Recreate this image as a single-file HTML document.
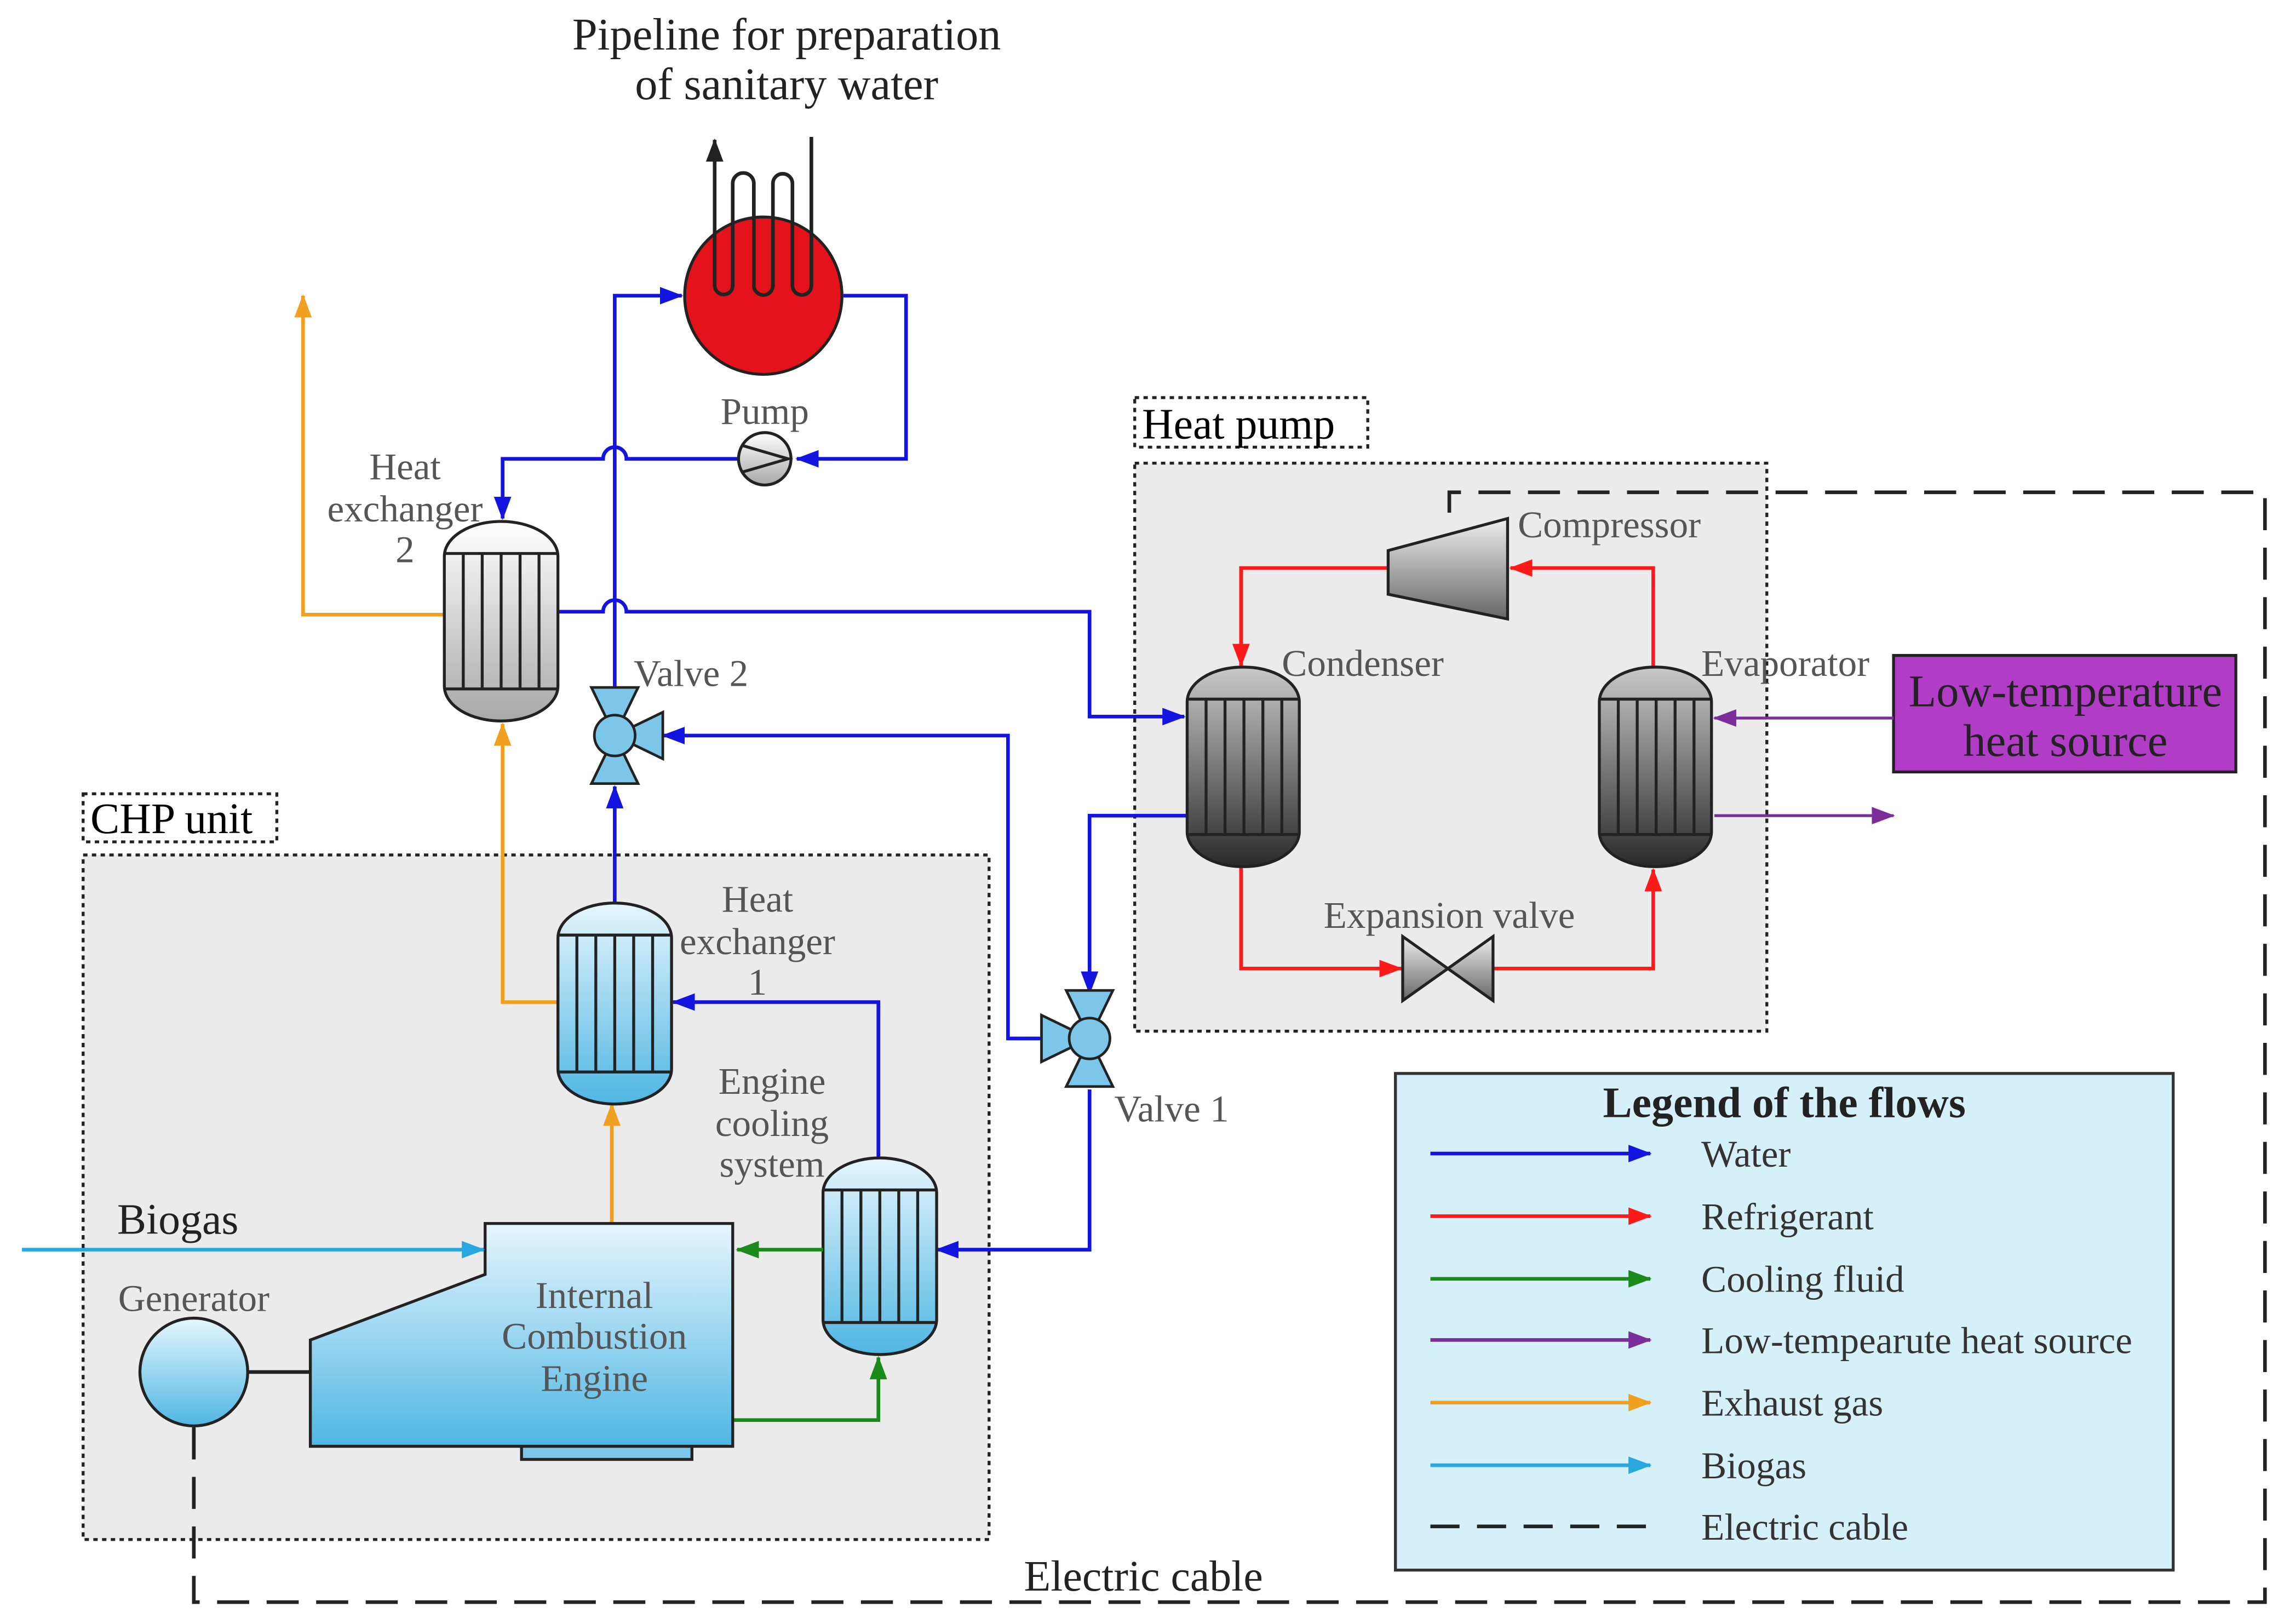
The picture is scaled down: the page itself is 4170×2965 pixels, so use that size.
<!DOCTYPE html>
<html><head><meta charset="utf-8"><style>
html,body{margin:0;padding:0;background:#fff;}
svg{display:block;}
text{font-family:"Liberation Serif",serif;}
</style></head><body>
<svg width="4170" height="2965" viewBox="0 0 1568 1115" xmlns="http://www.w3.org/2000/svg">
<defs>
<marker id="aB" markerWidth="18" markerHeight="14" refX="15" refY="6" orient="auto" markerUnits="userSpaceOnUse"><path d="M0,0 L16,6 L0,12 z" fill="#1414e0"/></marker>
<marker id="aR" markerWidth="18" markerHeight="14" refX="15" refY="6" orient="auto" markerUnits="userSpaceOnUse"><path d="M0,0 L16,6 L0,12 z" fill="#ff1a1a"/></marker>
<marker id="aG" markerWidth="18" markerHeight="14" refX="15" refY="6" orient="auto" markerUnits="userSpaceOnUse"><path d="M0,0 L16,6 L0,12 z" fill="#1a8a1a"/></marker>
<marker id="aP" markerWidth="18" markerHeight="14" refX="15" refY="6" orient="auto" markerUnits="userSpaceOnUse"><path d="M0,0 L16,6 L0,12 z" fill="#7b2d9a"/></marker>
<marker id="aO" markerWidth="18" markerHeight="14" refX="15" refY="6" orient="auto" markerUnits="userSpaceOnUse"><path d="M0,0 L16,6 L0,12 z" fill="#f0a020"/></marker>
<marker id="aL" markerWidth="18" markerHeight="14" refX="15" refY="6" orient="auto" markerUnits="userSpaceOnUse"><path d="M0,0 L16,6 L0,12 z" fill="#29a8e0"/></marker>
<marker id="aK" markerWidth="18" markerHeight="14" refX="15" refY="6" orient="auto" markerUnits="userSpaceOnUse"><path d="M0,0 L16,6 L0,12 z" fill="#222"/></marker>
<linearGradient id="gLB" x1="0" y1="0" x2="0" y2="1"><stop offset="0" stop-color="#e6f6fd"/><stop offset="1" stop-color="#4fb6e3"/></linearGradient>
<linearGradient id="gLG" x1="0" y1="0" x2="0" y2="1"><stop offset="0" stop-color="#ffffff"/><stop offset="1" stop-color="#a8a8a8"/></linearGradient>
<linearGradient id="gDG" x1="0" y1="0" x2="0" y2="1"><stop offset="0" stop-color="#c8c8c8"/><stop offset="1" stop-color="#2a2a2a"/></linearGradient>
<linearGradient id="gCmp" x1="0" y1="0" x2="0" y2="1"><stop offset="0" stop-color="#eee"/><stop offset="1" stop-color="#666"/></linearGradient>
</defs>

<!-- boxes -->
<rect x="57" y="587" width="622" height="470" fill="#ebebeb" stroke="#222" stroke-width="2" stroke-dasharray="3,3"/>
<rect x="57" y="545" width="133" height="33" fill="#fff" stroke="#222" stroke-width="2" stroke-dasharray="3,3"/>
<text x="62" y="572" font-size="30">CHP unit</text>
<rect x="779" y="318" width="434" height="390" fill="#ebebeb" stroke="#222" stroke-width="2" stroke-dasharray="3,3"/>
<rect x="779" y="273" width="160" height="34" fill="#fff" stroke="#222" stroke-width="2" stroke-dasharray="3,3"/>
<text x="784" y="301" font-size="30">Heat pump</text>

<!-- electric cable -->
<path d="M133,980 V1100 H1555 V338 H995 V362" fill="none" stroke="#222" stroke-width="2.5" stroke-dasharray="22,12"/>
<text x="785" y="1092" font-size="30" text-anchor="middle" fill="#222">Electric cable</text>

<!-- title -->
<text x="540" y="34" font-size="31" text-anchor="middle" fill="#222">Pipeline for preparation</text>
<text x="540" y="68" font-size="31" text-anchor="middle" fill="#222">of sanitary water</text>

<!-- tank -->
<circle cx="524" cy="203" r="54" fill="#e3121b" stroke="#222" stroke-width="2"/>
<path d="M490.6,110 V196 a6.2,6.2 0 0 0 12.4,0 V126 a7.25,7.25 0 0 1 14.5,0 V196 a6.55,6.55 0 0 0 13.1,0 V126 a6.7,6.7 0 0 1 13.4,0 V196 a6.5,6.5 0 0 0 13,0 V94" stroke="#222" stroke-width="2.5" fill="none"/>
<path d="M490.6,112 V96" stroke="#222" stroke-width="2.5" fill="none" marker-end="url(#aK)"/>

<!-- water lines -->
<g fill="none" stroke="#1414e0" stroke-width="2.5">
<path d="M579,203 H622 V315 H547" marker-end="url(#aB)"/>
<path d="M507,315 H430 a8,8 0 0 0 -16,0 H345 V356" marker-end="url(#aB)"/>
<path d="M422,488 V203 H468" marker-end="url(#aB)"/>
<path d="M383,420 H414 a8,8 0 0 1 16,0 H748 V492 H813" marker-end="url(#aB)"/>
<path d="M715,713 H692 V505 H455" marker-end="url(#aB)"/>
<path d="M815,560 H748 V682" marker-end="url(#aB)"/>
<path d="M748,748 V858 H643" marker-end="url(#aB)"/>
<path d="M422,620 V540" marker-end="url(#aB)"/>
<path d="M603,795 V688 H462" marker-end="url(#aB)"/>
</g>

<!-- pump -->
<circle cx="525" cy="315" r="18" fill="url(#gLG)" stroke="#222" stroke-width="2"/>
<path d="M510,306 L541,315 L510,324" fill="none" stroke="#222" stroke-width="2"/>
<text x="525" y="291" font-size="26" text-anchor="middle" fill="#555">Pump</text>

<!-- exhaust -->
<g fill="none" stroke="#f0a020" stroke-width="2.5">
<path d="M305,422 H208 V203" marker-end="url(#aO)"/>
<path d="M383,688 H345 V497" marker-end="url(#aO)"/>
<path d="M420,840 V758" marker-end="url(#aO)"/>
</g>

<!-- HX2 -->
<rect x="305" y="358" width="78" height="137" rx="39" ry="24" fill="url(#gLG)" stroke="#222" stroke-width="2"/>
<path d="M305,380 H383 M305,473 H383 M318,380 V473 M331,380 V473 M344,380 V473 M357,380 V473 M370,380 V473" stroke="#222" stroke-width="2"/>
<g font-size="26" fill="#555" text-anchor="middle"><text x="278" y="329">Heat</text><text x="278" y="358">exchanger</text><text x="278" y="386">2</text></g>

<!-- HX1 -->
<rect x="383" y="620" width="78" height="138" rx="39" ry="24" fill="url(#gLB)" stroke="#222" stroke-width="2"/>
<path d="M383,642 H461 M383,736 H461 M396,642 V736 M409,642 V736 M422,642 V736 M435,642 V736 M448,642 V736" stroke="#222" stroke-width="2"/>
<g font-size="26" fill="#555" text-anchor="middle"><text x="520" y="626">Heat</text><text x="520" y="655">exchanger</text><text x="520" y="683">1</text></g>

<!-- ECS -->
<rect x="565" y="795" width="78" height="135" rx="39" ry="24" fill="url(#gLB)" stroke="#222" stroke-width="2"/>
<path d="M565,817 H643 M565,908 H643 M578,817 V908 M591,817 V908 M604,817 V908 M617,817 V908 M630,817 V908" stroke="#222" stroke-width="2"/>
<g font-size="26" fill="#555" text-anchor="middle"><text x="530" y="751">Engine</text><text x="530" y="780">cooling</text><text x="530" y="808">system</text></g>

<!-- green -->
<g fill="none" stroke="#1a8a1a" stroke-width="2.5">
<path d="M565,858 H506" marker-end="url(#aG)"/>
<path d="M503,975 H603 V932" marker-end="url(#aG)"/>
</g>

<!-- ICE -->
<rect x="358" y="990" width="117" height="12" fill="#7cc6ea" stroke="#222" stroke-width="2"/>
<path d="M333,840 H503 V993 H213 V920 L333,875 Z" fill="url(#gLB)" stroke="#222" stroke-width="2"/>
<g font-size="26" fill="#555" text-anchor="middle"><text x="408" y="898">Internal</text><text x="408" y="926">Combustion</text><text x="408" y="955">Engine</text></g>

<!-- generator -->
<path d="M170,942 H213" stroke="#222" stroke-width="2.5"/>
<circle cx="133" cy="942" r="37" fill="url(#gLB)" stroke="#222" stroke-width="2"/>
<text x="133" y="900" font-size="26" text-anchor="middle" fill="#555">Generator</text>

<!-- biogas -->
<path d="M15,858 H332" stroke="#29a8e0" stroke-width="2.5" fill="none" marker-end="url(#aL)"/>
<text x="122" y="847" font-size="30" text-anchor="middle" fill="#222">Biogas</text>

<!-- valves -->
<g stroke="#222" stroke-width="1.8" fill="#7cc6ea">
<path d="M406,472 L438,472 L422,505 Z M406,538 L438,538 L422,505 Z M455,489 L455,521 L422,505 Z"/>
<circle cx="422" cy="505" r="14"/>
<path d="M732,680 L764,680 L748,713 Z M732,746 L764,746 L748,713 Z M715,697 L715,729 L748,713 Z"/>
<circle cx="748" cy="713" r="14"/>
</g>
<text x="435" y="471" font-size="26" fill="#555">Valve 2</text>
<text x="765" y="770" font-size="26" fill="#555">Valve 1</text>

<!-- refrigerant -->
<g fill="none" stroke="#ff1a1a" stroke-width="2.5">
<path d="M1135,460 V390 H1037" marker-end="url(#aR)"/>
<path d="M953,390 H852 V457" marker-end="url(#aR)"/>
<path d="M852,595 V665 H962" marker-end="url(#aR)"/>
<path d="M1025,665 H1135 V597" marker-end="url(#aR)"/>
</g>

<!-- compressor -->
<path d="M953,378 L1035,356 L1035,425 L953,408 Z" fill="url(#gCmp)" stroke="#222" stroke-width="2"/>
<text x="1042" y="369" font-size="26" fill="#555">Compressor</text>

<!-- condenser / evaporator -->
<rect x="815" y="458" width="77" height="137" rx="38" ry="24" fill="url(#gDG)" stroke="#222" stroke-width="2"/>
<path d="M815,480 H892 M815,573 H892 M828,480 V573 M841,480 V573 M854,480 V573 M867,480 V573 M880,480 V573" stroke="#222" stroke-width="2"/>
<rect x="1098" y="458" width="77" height="137" rx="38" ry="24" fill="url(#gDG)" stroke="#222" stroke-width="2"/>
<path d="M1098,480 H1175 M1098,573 H1175 M1111,480 V573 M1124,480 V573 M1137,480 V573 M1150,480 V573 M1163,480 V573" stroke="#222" stroke-width="2"/>
<text x="880" y="464" font-size="26" fill="#555">Condenser</text>
<text x="1168" y="464" font-size="26" fill="#555">Evaporator</text>

<!-- expansion valve -->
<path d="M963,643 L963,687 L1025,643 L1025,687 Z" fill="url(#gCmp)" stroke="#222" stroke-width="2"/>
<text x="995" y="637" font-size="26" text-anchor="middle" fill="#555">Expansion valve</text>

<!-- low temp source -->
<rect x="1300" y="450" width="235" height="80" fill="#b13dc6" stroke="#222" stroke-width="2"/>
<text x="1418" y="485" font-size="31" text-anchor="middle" fill="#222">Low-temperature</text>
<text x="1418" y="519" font-size="31" text-anchor="middle" fill="#222">heat source</text>
<g fill="none" stroke="#7b2d9a" stroke-width="2">
<path d="M1300,493 H1177" marker-end="url(#aP)"/>
<path d="M1177,560 H1300" marker-end="url(#aP)"/>
</g>

<!-- legend -->
<rect x="958" y="737" width="534" height="341" fill="#d5f0f8" stroke="#333" stroke-width="2"/>
<text x="1225" y="767" font-size="30" font-weight="bold" text-anchor="middle" fill="#222">Legend of the flows</text>
<g stroke-width="2.5" fill="none">
<path d="M982,792 H1133" stroke="#1414e0" marker-end="url(#aB)"/>
<path d="M982,835 H1133" stroke="#ff1a1a" marker-end="url(#aR)"/>
<path d="M982,878 H1133" stroke="#1a8a1a" marker-end="url(#aG)"/>
<path d="M982,920 H1133" stroke="#7b2d9a" marker-end="url(#aP)"/>
<path d="M982,963 H1133" stroke="#f0a020" marker-end="url(#aO)"/>
<path d="M982,1006 H1133" stroke="#29a8e0" marker-end="url(#aL)"/>
<path d="M982,1048 H1135" stroke="#222" stroke-dasharray="20,12"/>
</g>
<g font-size="26" fill="#333">
<text x="1168" y="801">Water</text>
<text x="1168" y="844">Refrigerant</text>
<text x="1168" y="887">Cooling fluid</text>
<text x="1168" y="929">Low-tempearute heat source</text>
<text x="1168" y="972">Exhaust gas</text>
<text x="1168" y="1015">Biogas</text>
<text x="1168" y="1057">Electric cable</text>
</g>
</svg>
</body></html>
